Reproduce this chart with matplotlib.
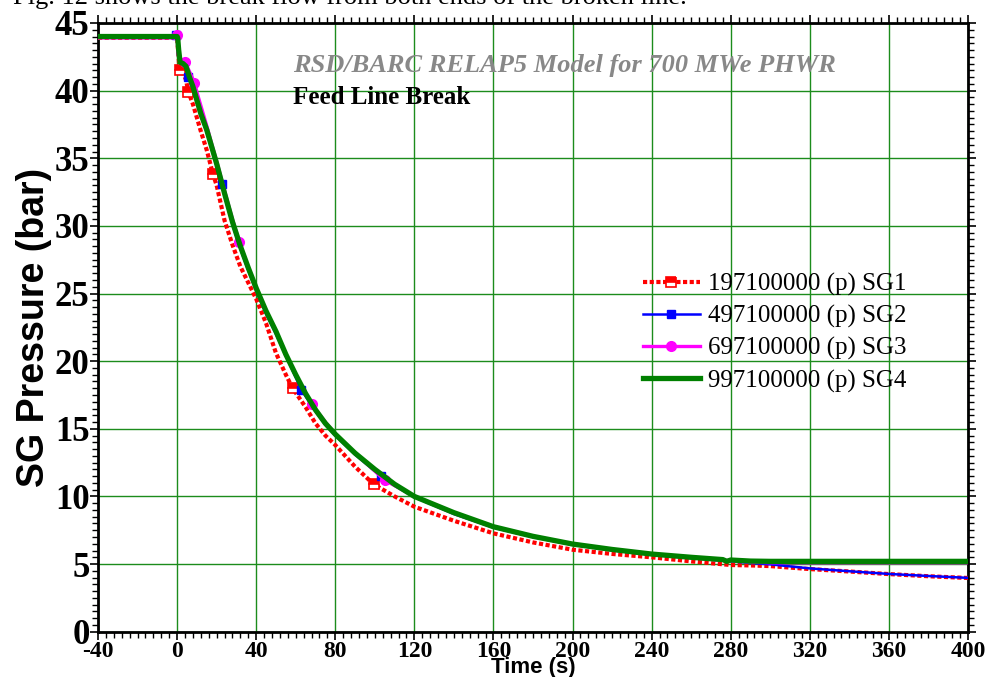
# -*- coding: utf-8 -*-

# SG 압력 그래프 그리기
import numpy as np
import matplotlib
matplotlib.use('Agg')
import matplotlib.pyplot as plt
from matplotlib.ticker import MultipleLocator

plt.rcParams['axes.unicode_minus'] = False

# SG1 데이터 (시간 s, 압력 bar)
t_sg1 = [-40, -20, -1, 0, 0.5, 1.0, 1.5, 3, 4.5, 5.7, 8, 10, 12, 15, 18.2, 20, 24, 28, 32, 36,
         40, 45, 50, 55, 58.4, 65, 70, 75, 80, 90, 99.4, 110, 120, 140, 160, 180, 200, 220, 240, 260,
         280, 290, 300, 320, 340, 360, 380, 400]
p_sg1 = [43.9, 43.9, 43.9, 43.9, 43.0, 42.0, 41.5, 41.3, 40.8, 39.9, 39.0, 38.0, 37.0, 35.6, 33.8, 33.0, 30.4, 28.6, 27.0, 25.8,
         24.6, 22.8, 20.6, 19.0, 18.0, 16.6, 15.4, 14.5, 13.8, 12.2, 10.9, 10.0, 9.24, 8.2, 7.27, 6.6, 6.06, 5.75, 5.5, 5.2,
         4.93, 4.9, 4.85, 4.63, 4.45, 4.26, 4.1, 3.97]
mk_sg1 = [6, 9, 14, 24, 30]

# SG2 데이터
t_sg2 = [-40, -20, -2, -0.3, 0, 0.3, 0.6, 1.5, 3, 4.5, 5.7, 8, 10, 12, 15, 18, 20, 22.6, 24, 28,
         32, 36, 40, 45, 50, 55, 62.8, 65, 70, 75, 80, 90, 103, 110, 120, 140, 160, 180, 200, 220,
         240, 260, 280, 290, 300, 320, 340, 360, 380, 400]
p_sg2 = [44.0, 44.0, 44.05, 44.1, 44.2, 43.0, 42.5, 42.2, 42.1, 41.7, 41.0, 40.1, 39.1, 38.1, 36.9, 35.4, 34.4, 33.1, 32.2, 30.1,
         28.3, 26.7, 25.2, 23.5, 22.0, 20.4, 17.9, 17.4, 16.3, 15.3, 14.5, 13.1, 11.5, 10.8, 9.95, 8.7, 7.7, 7.0, 6.43, 6.02,
         5.7, 5.45, 5.2, 5.08, 4.98, 4.68, 4.47, 4.27, 4.12, 3.98]
mk_sg2 = [3, 10, 17, 26, 32]

# SG3 데이터
t_sg3 = [-40, -20, -1, 0, 0.3, 0.6, 1.5, 4, 6, 8.8, 10, 12, 15, 18, 20, 24, 28, 31.5, 36, 40,
         45, 50, 55, 60, 65, 68.2, 75, 80, 90, 105, 110, 120, 140, 160, 180, 200, 220, 240, 260, 280,
         290, 300, 320, 340, 360, 380, 400]
p_sg3 = [43.9, 43.9, 43.9, 44.1, 43.2, 42.6, 42.3, 42.1, 41.5, 40.6, 39.9, 38.9, 37.4, 35.8, 34.8, 32.6, 30.5, 28.8, 26.9, 25.4,
         23.7, 22.2, 20.5, 19.0, 17.6, 16.8, 15.5, 14.6, 13.2, 11.2, 10.8, 10.0, 8.75, 7.72, 7.02, 6.45, 6.05, 5.72, 5.47, 5.25,
         5.15, 5.1, 5.1, 5.1, 5.1, 5.1, 5.1]
mk_sg3 = [3, 7, 9, 17, 25, 29]

# SG4 데이터
t_sg4 = [-40, -20, 0, 0.3, 0.8, 1.5, 3, 4.5, 6, 8, 10, 12, 15, 18, 20, 24, 28, 32, 36, 40,
         45, 50, 55, 60, 65, 70, 75, 80, 90, 100, 110, 120, 140, 160, 180, 200, 220, 240, 260, 276,
         278, 280, 290, 300, 320, 340, 360, 380, 400]
p_sg4 = [44.0, 44.0, 44.0, 43.9, 43.0, 42.1, 42.0, 41.8, 41.1, 40.3, 39.3, 38.3, 37.1, 35.6, 34.6, 32.4, 30.3, 28.5, 26.9, 25.4,
         23.7, 22.2, 20.5, 19.0, 17.6, 16.4, 15.4, 14.6, 13.2, 12.0, 10.9, 10.0, 8.8, 7.76, 7.05, 6.48, 6.08, 5.74, 5.5, 5.33,
         5.2, 5.3, 5.22, 5.2, 5.2, 5.2, 5.2, 5.2, 5.2]

labels = ['197100000 (p) SG1', '497100000 (p) SG2', '697100000 (p) SG3', '997100000 (p) SG4']
x_ticks = list(range(-40, 401, 40))
y_ticks = list(range(0, 46, 5))

serif = 'Liberation Serif'
sans = 'Liberation Sans'

fig = plt.figure(figsize=(9.87, 6.77), dpi=100)
fig.patch.set_facecolor('white')
ax = fig.add_axes([98/987, 1 - 631.7/677, 870/987, 608.7/677])

# 곡선
ax.plot(t_sg1, p_sg1, color='red', lw=3.0, linestyle=(0, (1, 0.6)),
        marker='s', ms=7, markevery=mk_sg1, fillstyle='top', markerfacecolor='red',
        markerfacecoloralt='white', markeredgecolor='red', markeredgewidth=1.2,
        label=labels[0], zorder=3)
ax.plot(t_sg2, p_sg2, color='blue', lw=1.8, marker='s', ms=6, markevery=mk_sg2,
        label=labels[1], zorder=4)
ax.plot(t_sg3, p_sg3, color='magenta', lw=2.4, marker='o', ms=7, markevery=mk_sg3,
        label=labels[2], zorder=5)
ax.plot(t_sg4, p_sg4, color='green', lw=3.8, solid_joinstyle='round',
        label=labels[3], zorder=6)

ax.set_xlim(-40, 400)
ax.set_ylim(0, 45)
ax.set_xticks(x_ticks)
ax.set_yticks(y_ticks)
ax.xaxis.set_minor_locator(MultipleLocator(4))
ax.yaxis.set_minor_locator(MultipleLocator(0.5))
ax.grid(True, which='major', color='#1c8c1c', lw=1.0, zorder=1)

ax.tick_params(axis='both', which='both', top=True, right=True, color='black')
ax.tick_params(axis='x', which='major', direction='out', length=6, width=1.2, pad=1)
ax.tick_params(axis='x', which='minor', direction='out', length=4, width=1.0)
ax.tick_params(axis='y', which='major', direction='out', length=6, width=1.2, pad=0)
ax.tick_params(axis='y', which='minor', direction='out', length=4, width=1.0)

for lab in ax.get_xticklabels():
    lab.set_fontfamily(serif)
    lab.set_fontweight('bold')
    lab.set_fontsize(17)
for lab in ax.get_yticklabels():
    lab.set_fontfamily(serif)
    lab.set_fontweight('bold')
    lab.set_fontsize(25)

for sp in ax.spines.values():
    sp.set_linewidth(2.0)
    sp.set_color('black')

ax.set_xlabel('Time (s)', family=sans, fontweight='bold', fontsize=16, labelpad=-4)
ax.set_ylabel('SG Pressure (bar)', family=sans, fontweight='bold', fontsize=27, labelpad=2)

# 제목 문구
fig.text(293/987, 1 - 72/677, 'RSD/BARC RELAP5 Model for 700 MWe PHWR', va='baseline',
         fontsize=19, family=serif, fontweight='bold', style='italic', color='#888888')
fig.text(293/987, 1 - 104/677, 'Feed Line Break', fontsize=18, family=serif,
         fontweight='bold', color='black', va='baseline')

# 윗부분 본문 (잘림)
fig.text(13/987, 1 - 4/677, 'Fig. 12 shows the break flow from both ends of the broken line.',
         fontsize=19, family=serif, color='black', va='baseline')

leg = ax.legend(loc='center left', bbox_to_anchor=(0.626, 0.491), frameon=False,
                prop={'family': serif, 'size': 18}, handlelength=2.3,
                handletextpad=0.3, labelspacing=0.36, borderpad=0, borderaxespad=0,
                numpoints=1)

fig.savefig('out.png', dpi=100)
